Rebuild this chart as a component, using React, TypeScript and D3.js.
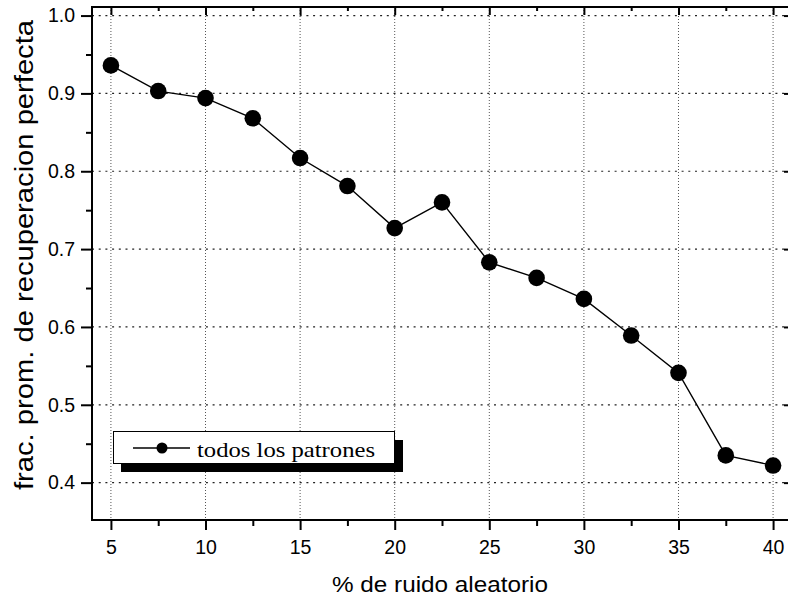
import { useEffect, useRef } from 'react';
import * as d3 from 'd3';

// % de ruido aleatorio
const noise = [5, 7.5, 10, 12.5, 15, 17.5, 20, 22.5, 25, 27.5, 30, 32.5, 35, 37.5, 40];
// frac. prom. de recuperacion perfecta
const recovery = [0.936, 0.903, 0.894, 0.868, 0.817, 0.781, 0.727, 0.760, 0.683, 0.663, 0.636, 0.589, 0.541, 0.435, 0.422];
const xTicks = [5, 10, 15, 20, 25, 30, 35, 40];
const xMinorTicks = [7.5, 12.5, 17.5, 22.5, 27.5, 32.5, 37.5];
const yTicks = [0.4, 0.5, 0.6, 0.7, 0.8, 0.9, 1.0];
const yMinorTicks = [0.45, 0.55, 0.65, 0.75, 0.85, 0.95];
const seriesName = 'todos los patrones';

const W = 788;
const H = 605;

export default function App() {
    const svgRef = useRef<SVGSVGElement>(null);

    useEffect(() => {
        if (!svgRef.current) return;
        const svg = d3.select(svgRef.current);
        svg.selectAll('*').remove();

        const left = 92, right = 792, top = 7, bottom = 520;

        const x = d3.scaleLinear().domain([4, 41]).range([left, right]);
        const y = d3.scaleLinear().domain([0.352, 1.011]).range([bottom, top]);

        const sans = '"Liberation Sans", Arial, sans-serif';

        svg.append('rect').attr('width', W).attr('height', H).attr('fill', '#fff');

        // grid
        const grid = svg.append('g');
        grid.selectAll('.vg').data(xTicks).enter().append('line')
            .attr('x1', d => x(d)).attr('x2', d => x(d))
            .attr('y1', top).attr('y2', bottom)
            .attr('stroke', '#555').attr('stroke-width', 1)
            .attr('stroke-dasharray', '1,2');
        grid.selectAll('.hg').data(yTicks).enter().append('line')
            .attr('x1', left).attr('x2', right)
            .attr('y1', d => y(d)).attr('y2', d => y(d))
            .attr('stroke', '#222').attr('stroke-width', 1.2)
            .attr('stroke-dasharray', '2,4.7');

        // axes
        const xAxis = svg.append('g').attr('transform', `translate(0,${bottom})`)
            .call(d3.axisBottom(x).tickValues(xTicks).tickSize(10).tickPadding(10).tickFormat(d3.format('d')));
        xAxis.select('.domain').remove();
        const xMinor = svg.append('g').attr('transform', `translate(0,${bottom})`)
            .call(d3.axisBottom(x).tickValues(xMinorTicks).tickSize(6).tickFormat(() => ''));
        xMinor.select('.domain').remove();

        const yAxis = svg.append('g').attr('transform', `translate(${left},0)`)
            .call(d3.axisLeft(y).tickValues(yTicks).tickSize(11).tickPadding(6).tickFormat(d3.format('.1f')));
        yAxis.select('.domain').remove();
        const yMinor = svg.append('g').attr('transform', `translate(${left},0)`)
            .call(d3.axisLeft(y).tickValues(yMinorTicks).tickSize(6).tickFormat(() => ''));
        yMinor.select('.domain').remove();

        // top / right mirrored inner ticks
        const xTop = svg.append('g').attr('transform', `translate(0,${top})`)
            .call(d3.axisBottom(x).tickValues(xTicks).tickSize(8).tickFormat(() => ''));
        xTop.select('.domain').remove();
        const xTopMinor = svg.append('g').attr('transform', `translate(0,${top})`)
            .call(d3.axisBottom(x).tickValues(xMinorTicks).tickSize(4).tickFormat(() => ''));
        xTopMinor.select('.domain').remove();
        const yRight = svg.append('g').attr('transform', `translate(${right},0)`)
            .call(d3.axisLeft(y).tickValues(yTicks).tickSize(8).tickFormat(() => ''));
        yRight.select('.domain').remove();

        svg.selectAll('.tick line').attr('stroke', '#000').attr('stroke-width', 2);
        svg.selectAll('.tick text')
            .attr('fill', '#000')
            .style('font-family', sans)
            .style('font-size', '19.5px');

        // frame
        svg.append('rect')
            .attr('x', left).attr('y', top)
            .attr('width', right - left).attr('height', bottom - top)
            .attr('fill', 'none').attr('stroke', '#000').attr('stroke-width', 2);

        // series
        const pts = noise.map((n, i) => ({ n, v: recovery[i] }));
        const line = d3.line<{ n: number; v: number }>().x(d => x(d.n)).y(d => y(d.v));
        svg.append('path').datum(pts)
            .attr('fill', 'none').attr('stroke', '#000').attr('stroke-width', 1.4)
            .attr('d', line);
        svg.selectAll('.dot').data(pts).enter().append('circle')
            .attr('cx', d => x(d.n)).attr('cy', d => y(d.v))
            .attr('r', 8.3).attr('fill', '#000');

        // legend
        const lg = svg.append('g');
        lg.append('rect').attr('x', 121).attr('y', 440).attr('width', 282).attr('height', 32).attr('fill', '#000');
        lg.append('rect').attr('x', 113.5).attr('y', 431.5).attr('width', 281).attr('height', 32)
            .attr('fill', '#fff').attr('stroke', '#000').attr('stroke-width', 1);
        lg.append('line').attr('x1', 133).attr('x2', 190).attr('y1', 448).attr('y2', 448)
            .attr('stroke', '#000').attr('stroke-width', 1.4);
        lg.append('circle').attr('cx', 162).attr('cy', 448).attr('r', 5.5).attr('fill', '#000');
        lg.append('text').attr('x', 197).attr('y', 456.5)
            .style('font-family', '"Liberation Serif", "Times New Roman", serif')
            .style('font-size', '22px')
            .attr('textLength', 178).attr('lengthAdjust', 'spacingAndGlyphs')
            .attr('fill', '#000')
            .text(seriesName);

        // axis titles
        svg.append('text')
            .attr('x', 332).attr('y', 592)
            .style('font-family', sans).style('font-size', '22.5px')
            .attr('textLength', 216).attr('lengthAdjust', 'spacingAndGlyphs')
            .attr('fill', '#000')
            .text('% de ruido aleatorio');
        svg.append('text')
            .attr('transform', `translate(33,490) rotate(-90)`)
            .style('font-family', sans).style('font-size', '25px')
            .attr('textLength', 470).attr('lengthAdjust', 'spacingAndGlyphs')
            .attr('fill', '#000')
            .text('frac. prom. de recuperacion perfecta');
    }, []);

    return (
        <svg
            ref={svgRef}
            width={W}
            height={H}
            style={{ position: 'absolute', left: 0, top: 0, display: 'block' }}
        />
    );
}
